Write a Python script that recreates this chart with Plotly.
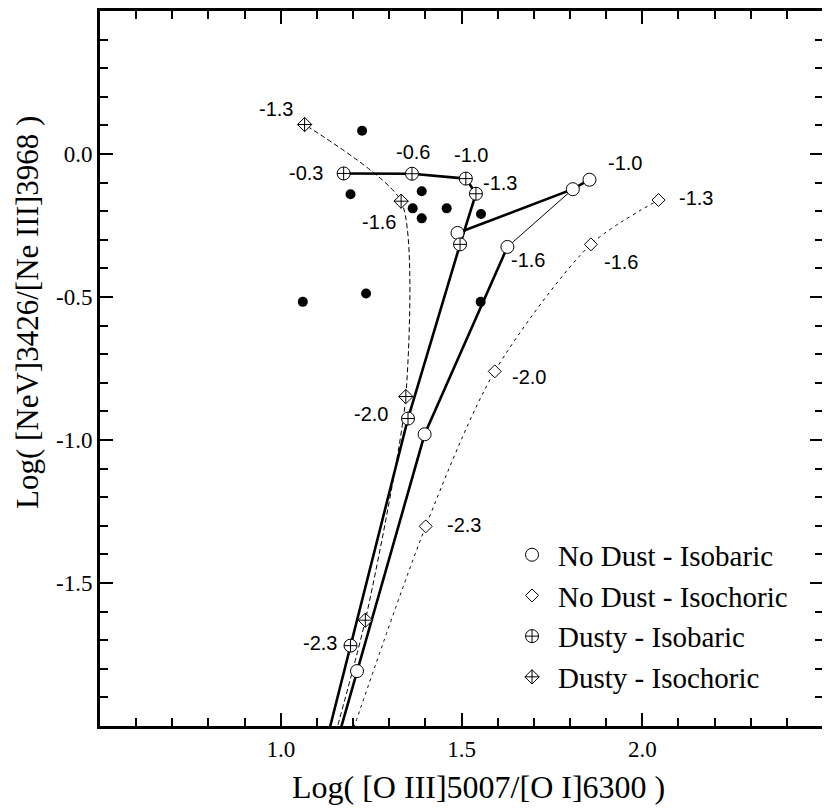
import plotly.graph_objects as go

# observed points (filled dots)
obs_x = [1.225, 1.193, 1.390, 1.365, 1.390, 1.459, 1.554, 1.061, 1.236, 1.553]
obs_y = [0.081, -0.141, -0.130, -0.190, -0.225, -0.190, -0.210, -0.517, -0.488, -0.517]

# No Dust - Isobaric sequence (log U = -2.6 ... -1.0), plus one extra model
nd_bar_x = [1.078, 1.211, 1.398, 1.627, 1.808, 1.854]
nd_bar_y = [-2.40, -1.808, -0.980, -0.325, -0.123, -0.090]
nd_bar_alt_x = [1.489]
nd_bar_alt_y = [-0.276]

# No Dust - Isochoric
nd_cho_x = [1.096, 1.401, 1.592, 1.858, 2.045]
nd_cho_y = [-2.40, -1.302, -0.760, -0.316, -0.161]

# Dusty - Isobaric
dy_bar_x = [1.057, 1.193, 1.352, 1.496, 1.540, 1.512, 1.363, 1.174]
dy_bar_y = [-2.40, -1.719, -0.925, -0.316, -0.139, -0.086, -0.069, -0.068]

# Dusty - Isochoric
dy_cho_x = [1.069, 1.234, 1.346, 1.333, 1.066]
dy_cho_y = [-2.40, -1.630, -0.848, -0.165, 0.103]

# log U labels next to the models
lab_text = ['-1.3', '-0.3', '-0.6', '-1.0', '-1.3', '-1.6', '-1.0', '-1.3',
            '-1.6', '-1.6', '-2.0', '-2.0', '-2.3', '-2.3']
lab_x = [0.986, 1.071, 1.367, 1.527, 1.606, 1.271, 1.951, 2.150,
         1.684, 1.940, 1.687, 1.249, 1.508, 1.108]
lab_y = [0.158, -0.067, 0.008, -0.003, -0.103, -0.236, -0.032, -0.153,
         -0.371, -0.377, -0.779, -0.908, -1.297, -1.710]

serif = 'Liberation Serif'
sans = 'Liberation Sans'
thick = 2.6

fig = go.Figure()

# ---- lines (no legend)
fig.add_trace(go.Scatter(x=nd_bar_x[:4], y=nd_bar_y[:4], mode='lines',
                         line=dict(color='black', width=thick), showlegend=False))
fig.add_trace(go.Scatter(x=nd_bar_x[3:5], y=nd_bar_y[3:5], mode='lines',
                         line=dict(color='black', width=1), showlegend=False))
fig.add_trace(go.Scatter(x=nd_bar_alt_x + nd_bar_x[4:], y=nd_bar_alt_y + nd_bar_y[4:],
                         mode='lines', line=dict(color='black', width=thick),
                         showlegend=False))
fig.add_trace(go.Scatter(x=nd_cho_x, y=nd_cho_y, mode='lines',
                         line=dict(color='black', width=1, dash='3px,4px',
                                   shape='spline', smoothing=0.8),
                         showlegend=False))
fig.add_trace(go.Scatter(x=dy_bar_x, y=dy_bar_y, mode='lines',
                         line=dict(color='black', width=thick), showlegend=False))
fig.add_trace(go.Scatter(x=dy_cho_x, y=dy_cho_y, mode='lines',
                         line=dict(color='black', width=1, dash='5px,3px',
                                   shape='spline', smoothing=0.6),
                         showlegend=False))

# ---- observed data
fig.add_trace(go.Scatter(x=obs_x, y=obs_y, mode='markers',
                         marker=dict(color='black', size=10), showlegend=False))

# ---- model markers (these carry the legend)
mk_line = dict(color='black', width=1)
fig.add_trace(go.Scatter(x=nd_bar_x + nd_bar_alt_x, y=nd_bar_y + nd_bar_alt_y,
                         mode='markers', name='No Dust - Isobaric',
                         marker=dict(symbol='circle', size=13, color='white', line=mk_line)))
fig.add_trace(go.Scatter(x=nd_cho_x, y=nd_cho_y, mode='markers',
                         name='No Dust - Isochoric',
                         marker=dict(symbol='diamond', size=10, color='white', line=mk_line)))
fig.add_trace(go.Scatter(x=dy_bar_x, y=dy_bar_y, mode='markers',
                         name='Dusty - Isobaric',
                         marker=dict(symbol='circle-cross', size=13, color='white', line=mk_line)))
fig.add_trace(go.Scatter(x=dy_cho_x, y=dy_cho_y, mode='markers',
                         name='Dusty - Isochoric',
                         marker=dict(symbol='diamond-cross', size=11, color='white', line=mk_line)))

# labels
for t, lx, ly in zip(lab_text, lab_x, lab_y):
    fig.add_annotation(x=lx, y=ly, text=t, showarrow=False,
                       font=dict(family=sans, size=20, color='black'))

# axis titles
fig.add_annotation(xref='paper', yref='paper', x=0.524, y=-0.085,
                   xanchor='center', yanchor='middle',
                   text='Log( [O III]5007/[O I]6300 )', showarrow=False,
                   font=dict(family=serif, size=32, color='black'))
fig.add_annotation(xref='paper', yref='paper', x=-0.101, y=0.579, textangle=-90,
                   xanchor='center', yanchor='middle',
                   text='Log( [NeV]3426/[Ne III]3968 )', showarrow=False,
                   font=dict(family=serif, size=31, color='black'))

axis_common = dict(showgrid=False, zeroline=False, showline=True, linewidth=3,
                   linecolor='black', mirror='ticks', ticks='inside', ticklen=13,
                   tickwidth=1.5, tickcolor='black',
                   tickfont=dict(family=serif, size=23, color='black'))

fig.update_xaxes(range=[0.5, 2.5], tickvals=[1.0, 1.5, 2.0],
                 ticktext=['1.0', '1.5', '2.0'],
                 minor=dict(dtick=0.1, tick0=0.5, ticks='inside', ticklen=8,
                            tickwidth=1.5, tickcolor='black'),
                 **axis_common)
fig.update_yaxes(range=[-2.0, 0.5], tickvals=[0.0, -0.5, -1.0, -1.5],
                 ticktext=['0.0', '-0.5', '-1.0', '-1.5'],
                 minor=dict(dtick=0.1, tick0=0.0, ticks='inside', ticklen=8,
                            tickwidth=1.5, tickcolor='black'),
                 **axis_common)

# the page adds an 8px body margin, so the figure is sized to fit the window
fig.update_layout(
    width=822, height=801,
    margin=dict(l=92, r=7, t=0, b=83),
    plot_bgcolor='white', paper_bgcolor='white',
    legend=dict(x=0.5616, y=0.154, xanchor='left', yanchor='middle',
                itemwidth=42,
                font=dict(family=serif, size=29, color='black'),
                bgcolor='rgba(0,0,0,0)'),
)

fig.write_html('out.html')
